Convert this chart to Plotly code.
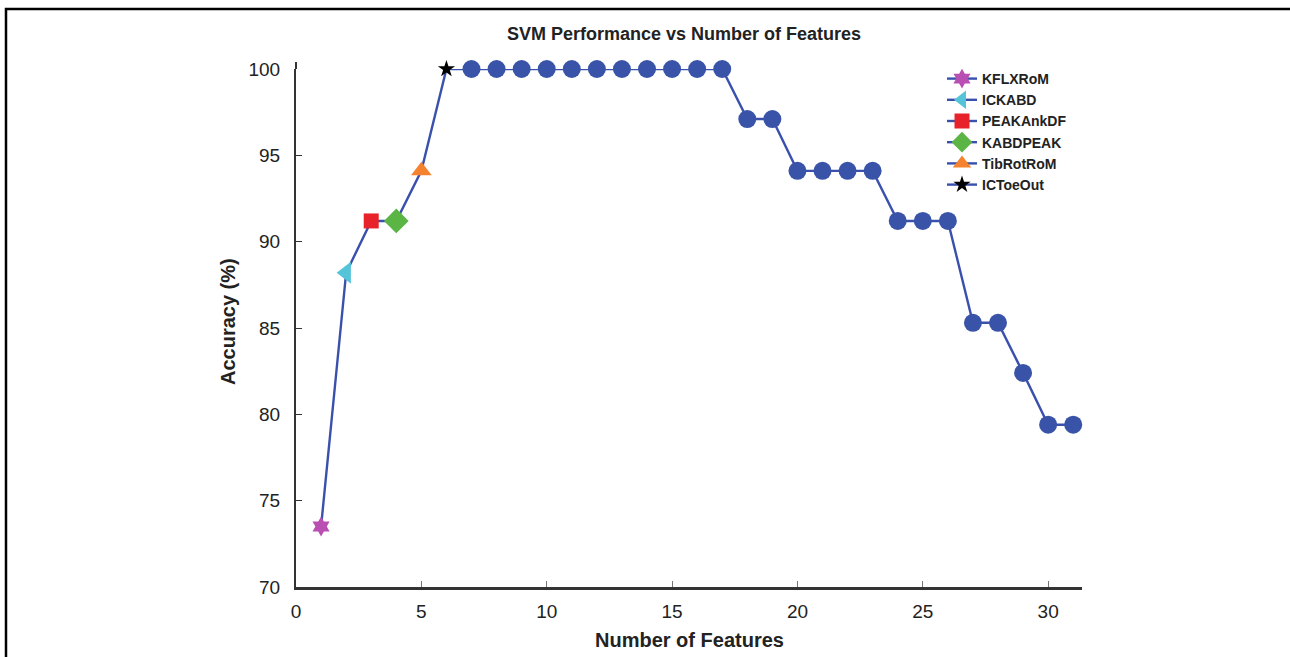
import plotly.graph_objects as go

num_features = list(range(1, 32))
accuracy = [73.5, 88.2, 91.2, 91.2, 94.1, 100, 100, 100, 100, 100, 100, 100, 100, 100, 100,
            100, 100, 97.1, 97.1, 94.1, 94.1, 94.1, 94.1, 91.2, 91.2, 91.2, 85.3, 85.3, 82.4,
            79.4, 79.4]

feature_names = ["KFLXRoM", "ICKABD", "PEAKAnkDF", "KABDPEAK", "TibRotRoM", "ICToeOut"]
feature_x = [1, 2, 3, 4, 5, 6]
feature_y = [73.5, 88.2, 91.2, 91.2, 94.1, 100]
x_ticks = [0, 5, 10, 15, 20, 25, 30]
y_ticks = [70, 75, 80, 85, 90, 95, 100]

LINE_BLUE = "#3a50ad"
symbols = ["hexagram", "triangle-left", "square", "diamond", "triangle-up", "star"]
colors = ["#b94fb3", "#55c4d9", "#e8222b", "#5bb545", "#f5822f", "#000000"]
sizes = [15, 19, 15, 19, 18, 13]
FONT = "Liberation Sans, Arial, sans-serif"

fig = go.Figure()

# main series
fig.add_trace(go.Scatter(
    x=num_features, y=accuracy, mode="lines",
    line=dict(color=LINE_BLUE, width=2.4), showlegend=False, cliponaxis=False))
fig.add_trace(go.Scatter(
    x=num_features[6:], y=accuracy[6:], mode="markers",
    marker=dict(symbol="circle", size=18, color="#3853a8"),
    showlegend=False, cliponaxis=False))

for name, xv, yv, sym, col, sz in zip(feature_names, feature_x, feature_y, symbols, colors, sizes):
    fig.add_trace(go.Scatter(
        x=[xv], y=[yv], mode="lines+markers", name=name,
        line=dict(color=LINE_BLUE, width=2.4),
        marker=dict(symbol=sym, size=sz, color=col, line=dict(width=0)),
        cliponaxis=False))

W, H = 1290, 657
L, R, T, B = 296, 1290 - 1082, 69, 657 - 587
pw, ph = W - L - R, H - T - B

def px_x(p):
    return (p - L) / pw

def px_y(p):
    return (H - B - p) / ph

frame_path = "M {:.5f},{:.5f} L {:.5f},{:.5f} L {:.5f},{:.5f}".format(
    px_x(1295), px_y(9), px_x(6), px_y(9), px_x(6), px_y(662))

fig.update_layout(
    width=W, height=H,
    margin=dict(l=L, r=R, t=T, b=B, autoexpand=False),
    paper_bgcolor="white", plot_bgcolor="white",
    font=dict(family=FONT, color="#222222"),
    title=dict(text="<b>SVM Performance vs Number of Features</b>",
               x=684 / W, xanchor="center", y=1 - 34 / H, yanchor="middle",
               font=dict(size=18, color="#222222")),
    xaxis=dict(range=[0, 31.35], tickvals=x_ticks, ticks="inside", ticklen=6,
               tickcolor="#777777", tickwidth=1, ticklabelstandoff=5,
               showline=True, linecolor="#333333", linewidth=2.5, showgrid=False, zeroline=False,
               tickfont=dict(size=19, color="#222222"), automargin=False),
    yaxis=dict(range=[70, 100], tickvals=y_ticks, ticks="inside", ticklen=6,
               tickcolor="#333333", tickwidth=1, ticklabelstandoff=10,
               showline=True, linecolor="#333333", linewidth=2, showgrid=False, zeroline=False,
               tickfont=dict(size=19, color="#222222"), automargin=False),
    legend=dict(x=px_x(942), y=px_y(63), xanchor="left", yanchor="top",
                bgcolor="rgba(0,0,0,0)", font=dict(size=14, color="#222222",
                family=FONT, weight="bold"),
                tracegroupgap=0, itemwidth=30),
    annotations=[
        dict(text="<b>Number of Features</b>", xref="paper", yref="paper",
             x=px_x(689), y=px_y(640), xanchor="center", yanchor="middle",
             showarrow=False, font=dict(size=20, color="#222222")),
        dict(text="<b>Accuracy (%)</b>", xref="paper", yref="paper",
             x=px_x(228), y=px_y(322), xanchor="center", yanchor="middle",
             textangle=-90, showarrow=False, font=dict(size=20, color="#222222")),
    ],
    shapes=[
        dict(type="path", xref="paper", yref="paper", path=frame_path,
             line=dict(color="black", width=2.5)),
        dict(type="line", xref="paper", yref="paper", x0=0, x1=0,
             y0=1, y1=px_y(62), line=dict(color="#333333", width=2)),
    ],
)

fig.write_html("out.html", config={"displayModeBar": False})
